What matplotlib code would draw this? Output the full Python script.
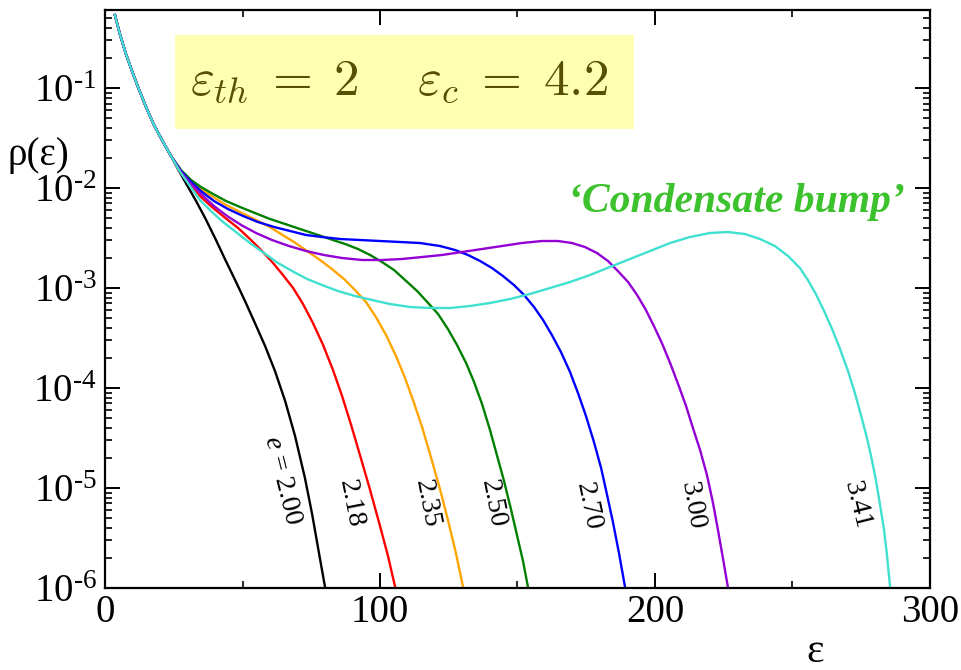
import numpy as np
import matplotlib.pyplot as plt
from matplotlib.ticker import MultipleLocator, LogLocator, FuncFormatter, NullFormatter
from matplotlib.patches import Rectangle

plt.rcParams['font.family'] = 'serif'
plt.rcParams['font.serif'] = ['Liberation Serif', 'DejaVu Serif']
plt.rcParams['mathtext.fontset'] = 'custom'
plt.rcParams['mathtext.rm'] = 'Liberation Serif'
plt.rcParams['mathtext.it'] = 'Liberation Serif:italic'
plt.rcParams['mathtext.bf'] = 'Liberation Serif:bold'

# shared low-energy part of every distribution, values are log10(rho)
eps_head = [3.6, 5.5, 7.6, 9.8, 12.0, 14.9, 17.8, 21.1, 24.0]
logrho_head = [-0.27, -0.47, -0.66, -0.83, -0.99, -1.19, -1.37, -1.54, -1.68]

eps_200 = [26.9, 29.8, 33.1, 36.4, 40.0, 43.6, 47.3, 50.9, 54.5, 58.2, 61.8, 65.5, 69.1,
           72.7, 75.3, 77.8, 80.0]
logrho_200 = [-1.83, -1.97, -2.13, -2.30, -2.50, -2.71, -2.92, -3.13, -3.35, -3.58, -3.83,
              -4.13, -4.48, -4.90, -5.26, -5.65, -5.99]

eps_218 = [27.6, 31.3, 34.9, 38.9, 43.3, 48.4, 52.7, 57.1, 61.1, 64.7, 68.4, 72.0, 75.6,
           79.3, 82.9, 86.2, 89.5, 92.7, 96.4, 100.0, 102.9, 105.5]
logrho_218 = [-1.85, -1.98, -2.09, -2.19, -2.29, -2.40, -2.51, -2.63, -2.75, -2.87, -3.00,
              -3.16, -3.35, -3.57, -3.82, -4.08, -4.37, -4.67, -5.02, -5.38, -5.68, -5.99]

eps_235 = [27.6, 31.3, 34.9, 39.3, 44.0, 49.1, 54.2, 59.3, 64.0, 68.7, 73.5, 78.2, 82.5,
           86.9, 90.9, 94.9, 98.5, 102.2, 105.8, 109.1, 112.0, 115.3, 118.5, 121.8, 124.7,
           127.6, 130.2]
logrho_235 = [-1.83, -1.93, -2.01, -2.09, -2.17, -2.24, -2.31, -2.38, -2.46, -2.54, -2.63,
              -2.72, -2.81, -2.91, -3.02, -3.14, -3.29, -3.47, -3.68, -3.90, -4.12, -4.39,
              -4.69, -5.01, -5.32, -5.65, -5.99]

eps_250 = [27.6, 31.3, 34.9, 39.3, 44.0, 49.1, 54.5, 60.0, 65.5, 70.9, 76.4, 81.8, 87.3,
           92.0, 96.4, 100.7, 105.1, 109.1, 113.5, 117.5, 121.1, 124.7, 128.0, 131.3, 134.2,
           137.1, 140.0, 142.5, 145.1, 147.6, 149.8, 152.0, 153.8]
logrho_250 = [-1.82, -1.92, -1.99, -2.06, -2.13, -2.19, -2.25, -2.31, -2.36, -2.41, -2.46,
              -2.51, -2.56, -2.61, -2.67, -2.74, -2.82, -2.92, -3.03, -3.15, -3.26, -3.41,
              -3.57, -3.75, -3.94, -4.16, -4.42, -4.67, -4.93, -5.21, -5.47, -5.73, -5.99]

eps_270 = [27.6, 31.3, 35.3, 39.6, 44.7, 50.2, 55.6, 61.5, 67.3, 73.1, 78.9, 85.5, 92.7,
           100.0, 107.3, 114.5, 121.8, 127.3, 132.0, 136.4, 140.7, 144.7, 148.7, 152.4,
           156.0, 159.3, 162.5, 165.8, 169.1, 172.0, 174.9, 177.8, 180.4, 182.5, 184.7,
           186.9, 189.1]
logrho_270 = [-1.83, -1.94, -2.04, -2.13, -2.21, -2.28, -2.34, -2.39, -2.43, -2.47, -2.49,
              -2.51, -2.52, -2.53, -2.54, -2.55, -2.58, -2.62, -2.67, -2.73, -2.80, -2.88,
              -2.97, -3.07, -3.19, -3.32, -3.47, -3.64, -3.84, -4.05, -4.28, -4.54, -4.80,
              -5.06, -5.34, -5.65, -5.99]

eps_300 = [27.6, 31.3, 35.3, 39.6, 44.4, 49.5, 54.9, 60.7, 66.9, 73.1, 79.6, 86.2, 93.5,
           100.7, 108.0, 115.3, 122.5, 129.8, 137.1, 144.4, 151.6, 158.9, 164.7, 169.8,
           174.5, 178.9, 182.9, 186.5, 190.2, 193.5, 196.7, 199.6, 202.5, 205.5, 208.4,
           211.3, 213.8, 216.4, 218.9, 221.1, 222.9, 224.7, 226.5]
logrho_300 = [-1.84, -1.96, -2.07, -2.18, -2.28, -2.37, -2.45, -2.52, -2.58, -2.63, -2.67,
              -2.70, -2.72, -2.72, -2.71, -2.69, -2.67, -2.64, -2.61, -2.58, -2.55, -2.53,
              -2.53, -2.55, -2.59, -2.65, -2.73, -2.83, -2.94, -3.07, -3.22, -3.38, -3.55,
              -3.75, -3.96, -4.18, -4.40, -4.62, -4.87, -5.15, -5.42, -5.70, -5.99]

eps_341 = [27.3, 30.9, 34.5, 38.5, 42.9, 47.6, 52.7, 57.8, 62.9, 68.0, 73.5, 78.9, 84.7,
           90.9, 97.1, 103.6, 110.9, 118.2, 125.5, 132.7, 140.0, 147.3, 154.5, 161.8, 169.1,
           176.4, 183.6, 190.9, 198.2, 205.5, 212.7, 220.0, 226.5, 232.7, 238.2, 243.6,
           248.4, 252.7, 255.6, 258.5, 261.5, 264.4, 267.3, 270.2, 272.7, 274.9, 277.1,
           278.9, 280.4, 281.8, 283.3, 284.4, 285.5]
logrho_341 = [-1.84, -1.98, -2.12, -2.23, -2.34, -2.44, -2.55, -2.65, -2.75, -2.83, -2.91,
              -2.97, -3.03, -3.08, -3.12, -3.16, -3.19, -3.20, -3.20, -3.18, -3.15, -3.11,
              -3.06, -3.00, -2.94, -2.87, -2.79, -2.71, -2.63, -2.55, -2.49, -2.45, -2.44,
              -2.46, -2.51, -2.58, -2.68, -2.80, -2.92, -3.06, -3.23, -3.41, -3.61, -3.83,
              -4.05, -4.27, -4.50, -4.72, -4.93, -5.16, -5.42, -5.68, -5.99]

series = [
    (eps_200, logrho_200, 'black', r'$e$ = 2.00', 64.4, -4.92, -76),
    (eps_218, logrho_218, 'red', '2.18', 89.5, -5.16, -79),
    (eps_235, logrho_235, 'orange', '2.35', 117.1, -5.16, -79),
    (eps_250, logrho_250, 'green', '2.50', 141.1, -5.16, -79),
    (eps_270, logrho_270, 'blue', '2.70', 175.6, -5.18, -78),
    (eps_300, logrho_300, 'darkviolet', '3.00', 213.5, -5.18, -80),
    (eps_341, logrho_341, 'turquoise', '3.41', 273.5, -5.17, -76),
]

fig = plt.figure(figsize=(9.61, 6.70), dpi=100)
ax = fig.add_axes([0.1093, 0.1224, 0.8584, 0.8627])

for eps, logrho, color, label, lx, ly, rot in series:
    x = np.array(eps_head + eps)
    y = 10.0 ** np.array(logrho_head + logrho)
    ax.plot(x, y, color=color, lw=1.7)
    ax.text(lx, 10.0 ** ly, label, rotation=rot, fontsize=20,
            ha='center', va='center', rotation_mode='anchor')

ax.set_yscale('log')
ax.set_xlim(0, 300)
ax.set_ylim(1e-6, 0.603)

ax.xaxis.set_major_locator(MultipleLocator(100))
ax.xaxis.set_minor_locator(MultipleLocator(50))
ax.yaxis.set_major_locator(LogLocator(base=10, numticks=10))
ax.yaxis.set_minor_locator(LogLocator(base=10, subs=np.arange(2, 10), numticks=20))
ax.yaxis.set_minor_formatter(NullFormatter())
# decade labels with a plain hyphen in the exponent
ax.yaxis.set_major_formatter(FuncFormatter(
    lambda v, pos: '$\\mathregular{10^{\u2010%d}}$' % abs(round(np.log10(v)))))

ax.tick_params(which='both', direction='in', top=True, right=True, labelsize=28)
ax.tick_params(which='major', length=11, width=1.4)
ax.tick_params(which='minor', length=5, width=1.2)
ax.tick_params(axis='x', pad=4)
ax.tick_params(axis='y', pad=6)
for sp in ax.spines.values():
    sp.set_linewidth(1.6)

# parameter box
ax.add_patch(Rectangle((0.0848, 0.794), 0.5563, 0.163, transform=ax.transAxes,
                       facecolor='#ffffb2', edgecolor='none', zorder=3))
ax.text(0.356, 0.853, r'$\varepsilon_{th} \;=\; 2 \quad\; \varepsilon_c \;=\; 4.2$',
        transform=ax.transAxes, ha='center', va='baseline', fontsize=37,
        color='#575000', math_fontfamily='cm', zorder=4)

ax.text(0.970, 0.651, '\u2018Condensate bump\u2019', transform=ax.transAxes,
        ha='right', va='baseline', fontsize=30, fontweight='bold', fontstyle='italic',
        color='#3bc22d')

fig.text(7 / 961, 1 - 155 / 670, '\u03c1(\u03b5)', fontsize=28, ha='left', va='center')
fig.text(815 / 961, 1 - 652 / 670, '\u03b5', fontsize=30, ha='center', va='center')

fig.savefig('out.png', dpi=100)
